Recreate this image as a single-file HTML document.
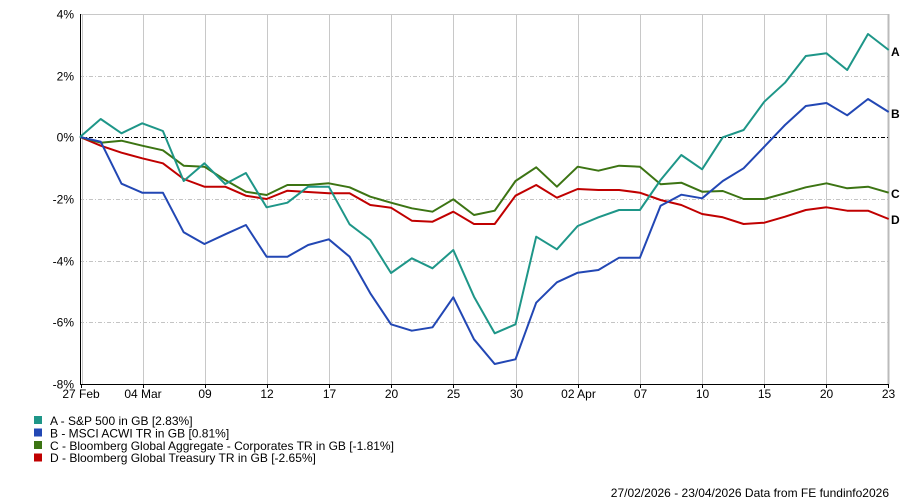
<!DOCTYPE html>
<html><head><meta charset="utf-8"><style>
html,body{margin:0;padding:0;background:#fff;}
svg{display:block;font-family:"Liberation Sans",Arial,sans-serif;}
</style></head><body>
<svg width="900" height="501" viewBox="0 0 900 501" xmlns="http://www.w3.org/2000/svg">
<rect width="900" height="501" fill="#fff"/>
<!-- horizontal grid -->
<g stroke="#c8c8c8" stroke-width="1" shape-rendering="crispEdges">
<line x1="80" y1="14.5" x2="889" y2="14.5"/>
</g>
<g stroke="#c4c4c4" stroke-width="1" stroke-dasharray="4,2,1,2" shape-rendering="crispEdges">
<line x1="80" y1="76.5" x2="889" y2="76.5"/>
<line x1="80" y1="199.5" x2="889" y2="199.5"/>
<line x1="80" y1="261.5" x2="889" y2="261.5"/>
<line x1="80" y1="322.5" x2="889" y2="322.5"/>
</g>
<!-- vertical grid -->
<g stroke="#c8c8c8" stroke-width="1" shape-rendering="crispEdges">
<line x1="82.5" y1="14" x2="82.5" y2="384"/>
<line x1="143.5" y1="14" x2="143.5" y2="384"/>
<line x1="205.5" y1="14" x2="205.5" y2="384"/>
<line x1="267.5" y1="14" x2="267.5" y2="384"/>
<line x1="329.5" y1="14" x2="329.5" y2="384"/>
<line x1="391.5" y1="14" x2="391.5" y2="384"/>
<line x1="453.5" y1="14" x2="453.5" y2="384"/>
<line x1="516.5" y1="14" x2="516.5" y2="384"/>
<line x1="578.5" y1="14" x2="578.5" y2="384"/>
<line x1="640.5" y1="14" x2="640.5" y2="384"/>
<line x1="702.5" y1="14" x2="702.5" y2="384"/>
<line x1="764.5" y1="14" x2="764.5" y2="384"/>
<line x1="826.5" y1="14" x2="826.5" y2="384"/>
</g>
<line x1="888.5" y1="14" x2="888.5" y2="384" stroke="#bbbbbb" stroke-width="2" shape-rendering="crispEdges"/>
<!-- zero line -->
<line x1="80" y1="137.5" x2="889" y2="137.5" stroke="#000" stroke-width="1" stroke-dasharray="4,2,1,2" shape-rendering="crispEdges"/>
<!-- axes -->
<g stroke="#000" stroke-width="1" shape-rendering="crispEdges">
<line x1="80.5" y1="14" x2="80.5" y2="385"/>
<line x1="80" y1="384.5" x2="889" y2="384.5"/>
<line x1="81.5" y1="384" x2="81.5" y2="388"/>
<line x1="143.5" y1="384" x2="143.5" y2="388"/>
<line x1="205.5" y1="384" x2="205.5" y2="388"/>
<line x1="267.5" y1="384" x2="267.5" y2="388"/>
<line x1="329.5" y1="384" x2="329.5" y2="388"/>
<line x1="391.5" y1="384" x2="391.5" y2="388"/>
<line x1="453.5" y1="384" x2="453.5" y2="388"/>
<line x1="516.5" y1="384" x2="516.5" y2="388"/>
<line x1="578.5" y1="384" x2="578.5" y2="388"/>
<line x1="640.5" y1="384" x2="640.5" y2="388"/>
<line x1="702.5" y1="384" x2="702.5" y2="388"/>
<line x1="764.5" y1="384" x2="764.5" y2="388"/>
<line x1="826.5" y1="384" x2="826.5" y2="388"/>
<line x1="888.5" y1="384" x2="888.5" y2="388"/>
</g>
<!-- y labels -->
<g font-size="12" fill="#000" text-anchor="end">
<text x="74" y="18.5">4%</text>
<text x="74" y="80.5">2%</text>
<text x="74" y="141.5">0%</text>
<text x="74" y="203.5">-2%</text>
<text x="74" y="265.5">-4%</text>
<text x="74" y="326.5">-6%</text>
<text x="74" y="388.5">-8%</text>
</g>
<!-- x labels -->
<g font-size="12" fill="#000" text-anchor="middle">
<text x="81" y="398">27 Feb</text>
<text x="143" y="398">04 Mar</text>
<text x="205" y="398">09</text>
<text x="267" y="398">12</text>
<text x="329.5" y="398">17</text>
<text x="391.5" y="398">20</text>
<text x="453.5" y="398">25</text>
<text x="516.5" y="398">30</text>
<text x="578.5" y="398">02 Apr</text>
<text x="640.5" y="398">07</text>
<text x="702.5" y="398">10</text>
<text x="764.5" y="398">15</text>
<text x="826.5" y="398">20</text>
<text x="888.5" y="398">23</text>
</g>
<!-- series -->
<g fill="none" stroke-width="2" stroke-linejoin="round">
<polyline stroke="#c00000" points="80,137 100.7,145.7 121.5,152.7 142.2,158.3 162.9,163.3 183.7,179 204.4,186.7 225.2,186.7 245.9,195.7 266.6,199 287.4,190.7 308.1,192 328.8,193.3 349.6,193.3 370.3,205 391,207.7 411.8,220.7 432.5,221.7 453.3,211.7 474,224 494.7,224 515.5,195.7 536.2,185 556.9,197.7 577.7,189 598.4,190 619.1,190 639.9,192.7 660.6,200 681.3,205 702.1,214 722.8,217.3 743.6,224 764.3,222.7 785,216.7 805.8,210 826.5,207.3 847.2,210.7 868,210.7 888.7,219"/>
<polyline stroke="#3c7413" points="80,137 100.7,142.7 121.5,140.7 142.2,145.7 162.9,150.3 183.7,165.7 204.4,166.7 225.2,180 245.9,191.7 266.6,195 287.4,185 308.1,185 328.8,183.3 349.6,187.3 370.3,196.7 391,202.7 411.8,208.3 432.5,211.7 453.3,199.3 474,215 494.7,210.7 515.5,181 536.2,167.3 556.9,186.7 577.7,166.7 598.4,170.7 619.1,165.7 639.9,166.7 660.6,184.3 681.3,182.7 702.1,191.7 722.8,191 743.6,199 764.3,199 785,193.3 805.8,187.3 826.5,183.3 847.2,188.3 868,186.7 888.7,192.7"/>
<polyline stroke="#2247b4" points="80,137 100.7,141.7 121.5,183.7 142.2,192.7 162.9,192.7 183.7,232.3 204.4,244 225.2,234.3 245.9,225 266.6,256.7 287.4,256.7 308.1,245 328.8,239.3 349.6,256.7 370.3,293.3 391,324.3 411.8,330.7 432.5,327.3 453.3,297.3 474,339.3 494.7,364 515.5,359.3 536.2,302.7 556.9,282.3 577.7,272.7 598.4,270 619.1,257.7 639.9,257.7 660.6,205.7 681.3,194.7 702.1,198.3 722.8,181 743.6,168.3 764.3,146.7 785,125 805.8,106 826.5,103 847.2,115.3 868,99 888.7,112"/>
<polyline stroke="#1e9688" points="80,137 100.7,119 121.5,133.3 142.2,123.3 162.9,131 183.7,181 204.4,163.3 225.2,184 245.9,173 266.6,207.3 287.4,202.7 308.1,186.7 328.8,186.7 349.6,224.3 370.3,240 391,273 411.8,258.3 432.5,268.3 453.3,250 474,296.7 494.7,333.3 515.5,324.3 536.2,236.7 556.9,249.3 577.7,226 598.4,217.3 619.1,210 639.9,210 660.6,180 681.3,155 702.1,169.3 722.8,137.3 743.6,130 764.3,101.7 785,82.7 805.8,56 826.5,53.3 847.2,70 868,34 888.7,50"/>
</g>
<!-- end letters -->
<g font-size="12" font-weight="bold" fill="#000">
<text x="891" y="56">A</text>
<text x="891" y="118">B</text>
<text x="891" y="198">C</text>
<text x="891" y="224">D</text>
</g>
<!-- legend -->
<rect x="34" y="416" width="8" height="8" fill="#1e9688"/>
<rect x="34" y="428.5" width="8" height="8" fill="#2247b4"/>
<rect x="34" y="441" width="8" height="8" fill="#3c7413"/>
<rect x="34" y="453.5" width="8" height="8" fill="#c00000"/>
<g font-size="12" fill="#000">
<text x="50" y="425">A - S&amp;P 500 in GB [2.83%]</text>
<text x="50" y="437.4">B - MSCI ACWI TR in GB [0.81%]</text>
<text x="50" y="449.8">C - Bloomberg Global Aggregate - Corporates TR in GB [-1.81%]</text>
<text x="50" y="462.2">D - Bloomberg Global Treasury TR in GB [-2.65%]</text>
</g>
<text x="889" y="497" font-size="12" fill="#000" text-anchor="end">27/02/2026 - 23/04/2026 Data from FE fundinfo2026</text>
</svg>
</body></html>
